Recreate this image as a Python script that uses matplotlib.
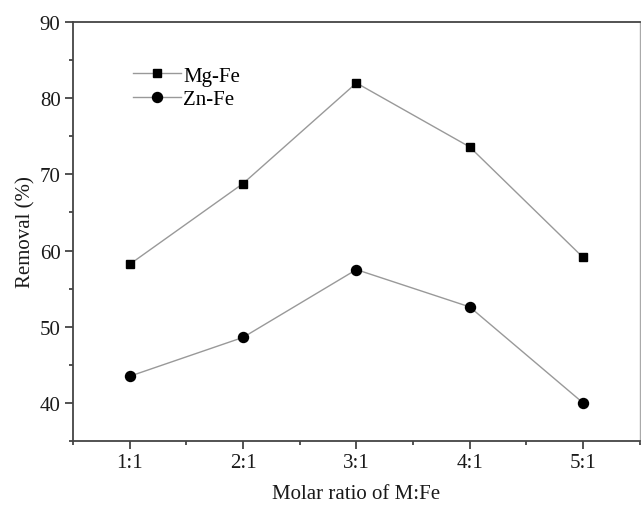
import matplotlib
matplotlib.use("Agg")
import matplotlib.pyplot as plt
from matplotlib.ticker import MultipleLocator

categories = ["1:1", "2:1", "3:1", "4:1", "5:1"]
mg_fe = [58.2, 68.8, 82.0, 73.6, 59.1]
zn_fe = [43.5, 48.6, 57.5, 52.6, 40.0]

plt.rcParams['font.family'] = ['Liberation Serif', 'DejaVu Serif']
fs = 15

fig = plt.figure(figsize=(6.41, 5.06), dpi=100)
ax = fig.add_axes([0.114, 0.1265, 0.884, 0.828])

x = list(range(1, len(categories) + 1))
ax.plot(x, mg_fe, color='#999999', lw=1.0, marker='s', ms=6.0,
        mfc='black', mec='black', label='Mg-Fe')
ax.plot(x, zn_fe, color='#999999', lw=1.0, marker='o', ms=7.2,
        mfc='black', mec='black', label='Zn-Fe')

ax.set_xlim(0.5, 5.5)
ax.set_ylim(35, 90)
ax.set_xticks(x)
ax.set_xticklabels(categories)
ax.xaxis.set_minor_locator(MultipleLocator(0.5))
ax.set_yticks([40, 50, 60, 70, 80, 90])
ax.yaxis.set_minor_locator(MultipleLocator(5))

for s in ax.spines.values():
    s.set_color('#444444')
    s.set_linewidth(1.3)
ax.spines['right'].set_color('#aaaaaa')
ax.spines['right'].set_linewidth(1.0)

ax.tick_params(which='major', direction='out', length=6, width=1.3,
               color='#444444', labelsize=fs, labelcolor='#1a1a1a', pad=3)
ax.tick_params(which='minor', direction='out', length=3, width=1.3,
               color='#444444')
ax.tick_params(top=False, right=False, which='both')

ax.set_xlabel('Molar ratio of M:Fe', fontsize=fs, color='#1a1a1a', labelpad=8)
ax.set_ylabel('Removal (%)', fontsize=fs, color='#1a1a1a', labelpad=3)

ax.legend(loc='upper left', bbox_to_anchor=(0.106, 0.895), frameon=False,
          fontsize=fs, handlelength=2.3, handletextpad=0.1,
          labelspacing=0.2, borderpad=0, borderaxespad=0)

fig.savefig('out.png', dpi=100)
